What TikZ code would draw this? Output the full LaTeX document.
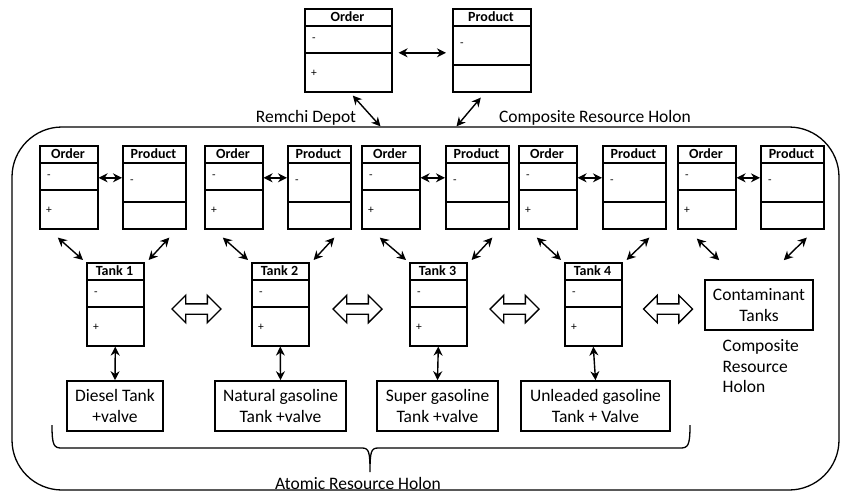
\documentclass[tikz,border=0pt]{standalone}
\usepackage{fontspec}
\setmainfont{Carlito}
\usetikzlibrary{arrows, arrows.meta, shapes.arrows, positioning}
\tikzset{>={Stealth[length=9pt,width=9pt]}}

\tikzset{
	box/.style={draw, line width=1.6pt, rectangle, minimum height=83pt, inner sep=0pt, anchor=north west},
	title/.style={font=\fontsize{14}{14}\selectfont\bfseries, inner sep=0pt},
	sign/.style={font=\fontsize{11.5}{12}\selectfont, inner sep=0pt},
	tankbox/.style={draw, line width=1.6pt, inner sep=0pt, minimum height=50pt, font=\fontsize{17.5}{20.5}\selectfont, align=center},
	txt/.style={font=\fontsize{17.5}{20.5}\selectfont, inner sep=0pt},
	hollow/.style={double arrow, draw, line width=1.4pt, minimum height=49pt, inner sep=4.5pt, double arrow head extend=8.5pt, fill=white}
}

% order-like box: name, left, top, width, title
\newcommand{\orderbox}[5]{%
	\node[box, minimum width=#4] (#1) at (#2,#3) {};
	\draw[line width=1.6pt] (#2,#3+18) -- ++(#4,0);
	\draw[line width=1.6pt] (#2,#3+45) -- ++(#4,0);
	\node[title] (#1-t) at (#2+#4/2,#3+9) {#5};
	\node[sign] (#1-m) at (#2+10,#3+32) {-};
	\node[sign] (#1-p) at (#2+10,#3+65) {+};
}
% product-like box: name, left, top, width, title
\newcommand{\productbox}[5]{%
	\node[box, minimum width=#4] (#1) at (#2,#3) {};
	\draw[line width=1.6pt] (#2,#3+18) -- ++(#4,0);
	\draw[line width=1.6pt] (#2,#3+57) -- ++(#4,0);
	\node[title] (#1-t) at (#2+#4/2,#3+9) {#5};
	\node[sign] (#1-m) at (#2+10,#3+37) {-};
}

\begin{document}
\begin{tikzpicture}[x=1pt, y=-1pt, line width=1.4pt]
	\useasboundingbox (0,0) rectangle (843,493);

	% outer holon
	\node[draw, rounded corners=50pt, line width=1.3pt, minimum width=827pt, minimum height=363pt] (holon) at (425.5,308.5) {};
	\node[txt] (depot) at (306,118) {Remchi Depot};
	\node[txt] (comp) at (595,118) {Composite Resource Holon};

	% top level
	\orderbox{o0}{304}{8}{87}{Order}
	\productbox{p0}{452}{8}{78}{Product}
	\draw[<->] ([shift={(6,2.5)}]o0.east) -- ([shift={(-6,2.5)}]p0.west);
	\draw[<->] ([shift={(4.5,3)}]o0.south) -- ([xshift=-45pt]holon.north);
	\draw[<->] ([shift={(-11,5)}]p0.south) -- ([xshift=31pt]holon.north);

	% order / product pairs
	\foreach \i/\xo/\xp in {1/39/122, 2/204/287, 3/361/445, 4/518/602, 5/677/760} {
		\orderbox{o\i}{\xo}{145}{58}{Order}
		\productbox{p\i}{\xp}{145}{63}{Product}
		\draw[<->] ([yshift=9.5pt]o\i.east) -- ([yshift=9.5pt]p\i.west);
	}

	% tanks
	\orderbox{t1}{86}{262}{57}{Tank 1}
	\orderbox{t2}{251}{262}{57}{Tank 2}
	\orderbox{t3}{409}{262}{57}{Tank 3}
	\orderbox{t4}{564}{262}{57}{Tank 4}
	\node[tankbox, minimum width=108pt] (cont) at (759,305) {Contaminant\\Tanks};
	\node[txt, anchor=north west, align=left] (contlbl) at (722,339) {Composite\\Resource\\Holon};

	\node[hollow] (h1) at (196.5,309) {};
	\node[hollow] (h2) at (357.5,309) {};
	\node[hollow] (h3) at (514.5,309) {};
	\node[hollow] (h4) at (668,309) {};

	% physical tanks
	\node[tankbox, minimum width=96pt] (d1) at (115,406) {Diesel Tank\\+valve};
	\node[tankbox, minimum width=131pt] (d2) at (280.5,406) {Natural gasoline\\Tank +valve};
	\node[tankbox, minimum width=121pt] (d3) at (437.5,406) {Super gasoline\\Tank +valve};
	\node[tankbox, minimum width=149pt] (d4) at (595.5,406) {Unleaded gasoline\\Tank + Valve};

	\foreach \i in {1,...,4} {
		\draw[<->] ([shift={(-11,8)}]o\i.south) -- ([shift={(-3,-2)}]t\i.north west);
		\draw[<->] ([shift={(15,8)}]p\i.south) -- ([shift={(4,-2)}]t\i.north east);
		\draw[<->] (t\i.south) -- (d\i.north);
	}
	\draw[<->] ([shift={(-10,9)}]o5.south) -- ([shift={(15,-19)}]cont.north west);
	\draw[<->] ([shift={(14.5,8)}]p5.south) -- ([shift={(-30,-19)}]cont.north east);

	% brace
	\coordinate (bl) at (52,425);
	\coordinate (bm) at (370,472);
	\coordinate (br) at (690,425);
	\draw[line width=1.3pt] (bl) .. controls (52,446) and (54,448) .. (62,448) -- (362,448)
		.. controls (369,448) and (370,452) .. (bm)
		.. controls (370,452) and (371,448) .. (378,448) -- (680,448)
		.. controls (688,448) and (690,446) .. (br);
	\node[txt] (atomic) at (358,483) {Atomic Resource Holon};

\end{tikzpicture}
\end{document}
